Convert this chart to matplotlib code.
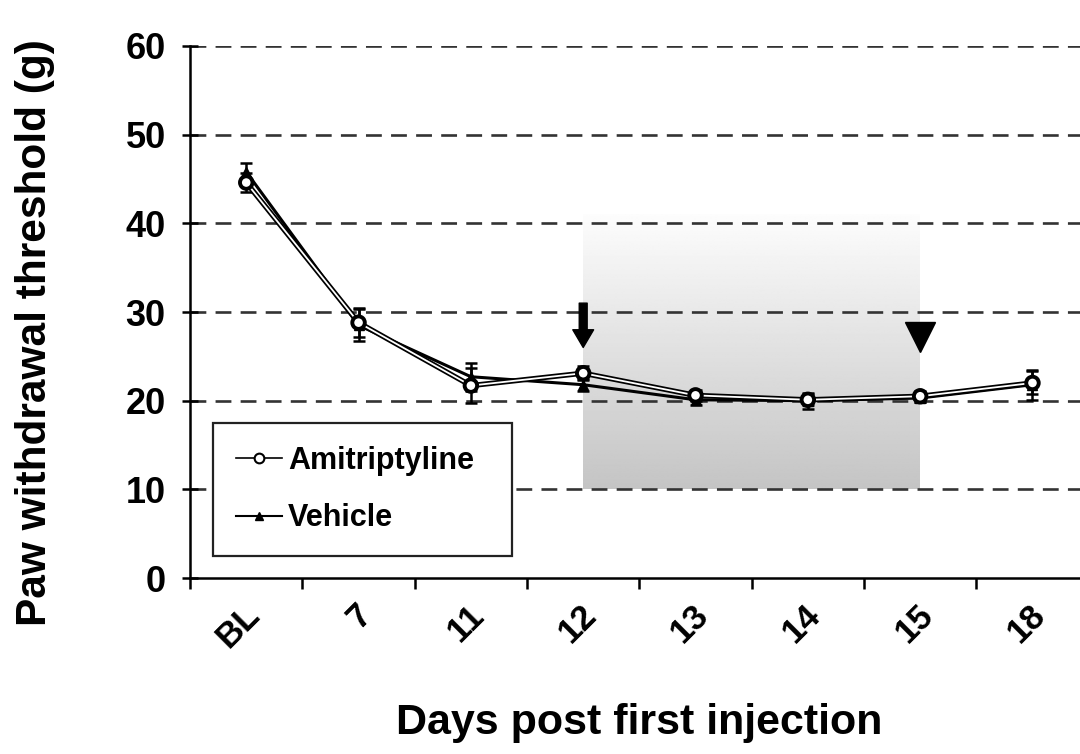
import numpy as np
import matplotlib.pyplot as plt
import matplotlib.patheffects as pe
from matplotlib.lines import Line2D
from matplotlib.transforms import ScaledTranslation

plt.rcParams['font.family'] = ['Liberation Sans', 'DejaVu Sans']
plt.rcParams['font.weight'] = 'bold'

# data
days = ['BL', '7', '11', '12', '13', '14', '15', '18']
amit = [44.6, 28.8, 21.7, 23.1, 20.6, 20.1, 20.5, 22.0]
amit_err = [1.1, 1.6, 2.0, 0.8, 0.6, 0.6, 0.6, 1.3]
veh = [45.8, 28.5, 22.7, 21.8, 20.1, 20.0, 20.3, 21.8]
veh_err = [1.0, 1.8, 1.6, 0.7, 0.6, 0.9, 0.5, 1.7]
grid_vals = [10, 20, 30, 40, 50, 60]
yticks = [0, 10, 20, 30, 40, 50, 60]

x = np.arange(len(days))

fig = plt.figure(figsize=(10.8, 7.54), dpi=100)
ax = fig.add_axes([0.176, 0.2334, 0.832, 0.7056])

# shaded treatment window (day 12 to day 15), fading upward
grad = np.linspace(0.77, 0.99, 200).reshape(-1, 1)
ax.imshow(grad, cmap='gray', vmin=0, vmax=1, origin='lower',
          extent=(3, 6, 10, 41), aspect='auto', zorder=0.5,
          interpolation='bilinear')

# dashed grid lines
for g in grid_vals:
    ax.axhline(g, color='#333333', lw=1.9, ls=(0, (6, 3.5)), zorder=1)

# vehicle
ax.errorbar(x, veh, yerr=veh_err, color='black', lw=2.2, marker='^',
            ms=7, mfc='black', mec='black', capsize=4, capthick=1.8,
            elinewidth=1.8, zorder=3)

# amitriptyline: white line with black outline
ax.errorbar(x, amit, yerr=amit_err, color='black', lw=0, marker=None,
            capsize=4, capthick=1.8, elinewidth=1.8, zorder=3)
ax.plot(x, amit, color='white', lw=1.3, marker='o', ms=8, mfc='white',
        mec='black', mew=1.8, zorder=4,
        path_effects=[pe.Stroke(linewidth=3.8, foreground='black'), pe.Normal()])

# treatment markers
ax.annotate('', xy=(3, 26.0), xytext=(3, 31.0),
            arrowprops=dict(arrowstyle='simple,head_width=1.0,head_length=0.85,tail_width=0.38',
                            color='black', mutation_scale=15,
                            shrinkA=0, shrinkB=0), zorder=5)
ax.plot([6], [27.2], marker='v', ms=21, color='black', zorder=5)

ax.set_xlim(-0.5, len(days) - 0.5)
ax.set_ylim(0, 60)
ax.set_yticks(yticks)
ax.set_yticklabels([str(v) for v in yticks], fontsize=26, fontweight='bold')

ax.set_xticks(np.arange(len(days)) - 0.5)
ax.set_xticklabels([])
ax.set_xticks(x, minor=True)
ax.set_xticklabels(days, minor=True, fontsize=25, fontweight='bold',
                   rotation=45, ha='right', va='center', rotation_mode='anchor')
ax.tick_params(axis='x', which='major', direction='out', length=8, width=1.8)
ax.tick_params(axis='x', which='minor', length=0, pad=23)
ax.tick_params(axis='y', direction='inout', length=11, width=1.8, pad=12)
for lab in ax.get_xticklabels(minor=True):
    lab.set_transform(lab.get_transform() + ScaledTranslation(0.08, 0, fig.dpi_scale_trans))

ax.spines['top'].set_visible(False)
ax.spines['right'].set_visible(False)
ax.spines['left'].set_linewidth(1.8)
ax.spines['bottom'].set_linewidth(1.8)

ax.set_xlabel('Days post first injection', fontsize=31, fontweight='bold')
ax.set_ylabel('Paw withdrawal threshold (g)', fontsize=30.5, fontweight='bold')
ax.xaxis.set_label_coords(0.5, -0.235)
ax.yaxis.set_label_coords(-0.15, 0.462)

h_amit = Line2D([], [], color='black', lw=1.2, marker='o', ms=7, mfc='white', mec='black', mew=1.5)
h_veh = Line2D([], [], color='black', lw=1.5, marker='^', ms=6, mfc='black', mec='black')
leg = ax.legend([h_amit, h_veh], ['Amitriptyline', 'Vehicle'],
                loc='lower left', bbox_to_anchor=(0.0256, 0.041, 0.333, 0.244),
                mode='expand', borderaxespad=0, prop={'weight': 'bold', 'size': 22},
                frameon=True, fancybox=False, edgecolor='#222222', framealpha=1,
                handlelength=1.5, handletextpad=0.2, labelspacing=0.9,
                borderpad=0.75)
leg.get_frame().set_linewidth(1.6)
leg.set_zorder(6)

fig.savefig('out.png', dpi=100)
